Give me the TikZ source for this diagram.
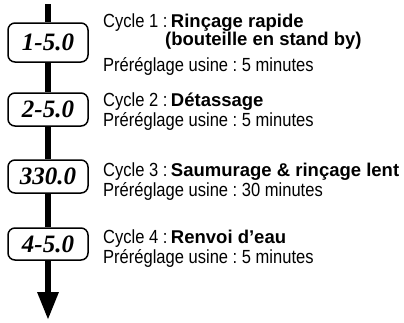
\documentclass[tikz,border=0pt]{standalone}
\usepackage{fontspec}
\usetikzlibrary{arrows.meta}
\newfontfamily\rgfont{Liberation Sans}[FakeStretch=0.87]
\newfontfamily\bdfont{Liberation Sans}
\newfontfamily\boxfont{Liberation Serif}
\frenchspacing
\tikzset{
  stepbox/.style={draw, line width=1.5pt, rounded corners=7pt, fill=white,
    minimum width=80pt, inner sep=0pt, font=\boxfont\bfseries\itshape\fontsize{25}{25}\selectfont},
  lbl/.style={anchor=base west, inner sep=0pt, font=\rgfont\fontsize{19}{21}\selectfont},
  bold/.style={anchor=base west, inner sep=0pt, font=\bdfont\bfseries\fontsize{18.5}{21}\selectfont},
  flow/.style={line width=6pt}
}
\begin{document}
\begin{tikzpicture}[x=1pt,y=-1pt]
\useasboundingbox (0,0) rectangle (404,322);
\coordinate (top) at (48,4);
\coordinate (end) at (48,320);
\node[stepbox, minimum height=39pt] (b1) at (48,42.5) {1-5.0};
\node[stepbox, minimum height=33pt] (b2) at (48,109.5) {2-5.0};
\node[stepbox, minimum height=33pt] (b3) at (48,176.5) {330.0};
\node[stepbox, minimum height=32pt] (b4) at (48,244) {4-5.0};
\draw[flow] (top) -- (b1.north);
\draw[flow] (b1.south) -- (b2.north);
\draw[flow] (b2.south) -- (b3.north);
\draw[flow] (b3.south) -- (b4.north);
\draw[flow, -{Triangle[width=20pt,length=28pt]}] (b4.south) -- (end);
% texts
\node[lbl] (c1) at (103,27) {Cycle 1 :};
\node[bold] (t1) at (c1.base east) {\,Rinçage rapide};
\node[bold] (t1b) at (165,45) {(bouteille en stand by)};
\node[lbl] (p1) at (103,71) {Préréglage usine : 5 minutes};
\node[lbl] (c2) at (103,106) {Cycle 2 :};
\node[bold] (t2) at (c2.base east) {\,Détassage};
\node[lbl] (p2) at (103,126) {Préréglage usine : 5 minutes};
\node[lbl] (c3) at (103,176) {Cycle 3 :};
\node[bold] (t3) at (c3.base east) {\,Saumurage \& rinçage lent};
\node[lbl] (p3) at (103,196) {Préréglage usine : 30 minutes};
\node[lbl] (c4) at (103,243) {Cycle 4 :};
\node[bold] (t4) at (c4.base east) {\,Renvoi d’eau};
\node[lbl] (p4) at (103,263) {Préréglage usine : 5 minutes};
\end{tikzpicture}
\end{document}
